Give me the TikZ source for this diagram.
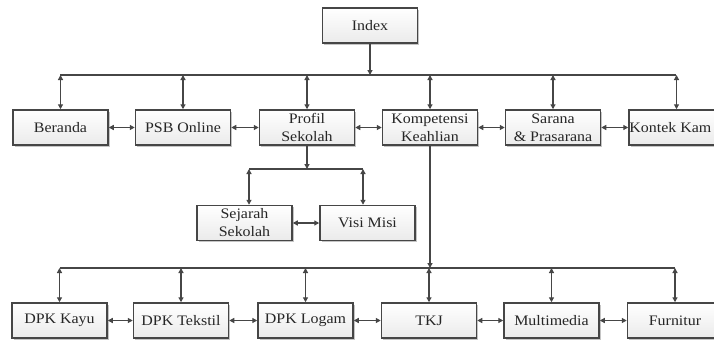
\documentclass[tikz,border=0pt]{standalone}
\usepackage{fontspec}
\setmainfont{Liberation Serif}[FakeStretch=1.1]
\usetikzlibrary{arrows.meta,shadows}
\definecolor{linegray}{HTML}{464646}
\begin{document}
\begin{tikzpicture}[x=1pt,y=-1pt,
  box/.style={draw=linegray, line width=1.5pt, top color=white, bottom color=gray!16,
    minimum width=95pt, minimum height=35pt, inner sep=0pt, align=center,
    font=\fontsize{14.5}{18}\selectfont, text=black!85,
    drop shadow={shadow xshift=1.8pt, shadow yshift=-1.8pt, opacity=0.45, fill=gray}},
  lbl/.style={font=\fontsize{14.5}{18}\selectfont, text=black!85, inner sep=0pt},
  conn/.style={draw=linegray, line width=1.4pt},
  tp/.tip={Triangle[length=5pt,width=5pt]}]
\useasboundingbox (0,0) rectangle (714,340);
\clip (0,0) rectangle (714,340);
\fill[white] (0,0) rectangle (714,340);
% top
\node[box] (index) at (370,25.5) {Index};
% row 1
\node[box] (beranda) at (60.5,127.5) {Beranda};
\node[box] (psb) at (183,127.5) {PSB Online};
\node[box] (profil) at (307,127.5) {Profil\\Sekolah};
\node[box] (komp) at (430,127.5) {Kompetensi\\Keahlian};
\node[box] (sarana) at (553,127.5) {Sarana\\\& Prasarana};
\node[box] (kontak) at (676.5,127.5) {};
\node[lbl, anchor=west] (kontaktext) at ([xshift=1pt]kontak.west) {Kontek Kam};
% sub row
\node[box] (sejarah) at (244.5,223) {Sejarah\\Sekolah};
\node[box] (visi) at (367.5,223) {Visi Misi};
% bottom row
\node[box] (kayu) at (59.5,320.5) {DPK Kayu};
\node[box] (tekstil) at (181,320.5) {DPK Tekstil};
\node[box] (logam) at (305.5,320.5) {DPK Logam};
\node[box] (tkj) at (429,320.5) {TKJ};
\node[box] (multi) at (551.5,320.5) {Multimedia};
\node[box] (furnitur) at (675,320.5) {Furnitur};
% top bus
\coordinate (tl) at (60,75);
\coordinate (tr) at (676,75);
\draw[conn] (tl) -- (tr);
\draw[conn,-tp] (index.south) -- (index.south |- tl);
\foreach \n in {beranda,psb,profil,komp,sarana,kontak}
  \draw[conn,tp-tp] (\n.north |- tl) -- (\n.north);
% row 1 horizontal
\draw[conn,tp-tp] (beranda.east) -- (psb.west);
\draw[conn,tp-tp] (psb.east) -- (profil.west);
\draw[conn,tp-tp] (profil.east) -- (komp.west);
\draw[conn,tp-tp] (komp.east) -- (sarana.west);
\draw[conn,tp-tp] (sarana.east) -- (kontak.west);
% sub branch
\coordinate (sl) at (249,169);
\coordinate (sr) at (363,169);
\draw[conn] (sl) -- (sr);
\draw[conn,-tp] (profil.south) -- (profil.south |- sl);
\draw[conn,tp-tp] (sl) -- (sl |- sejarah.north);
\draw[conn,tp-tp] (sr) -- (sr |- visi.north);
\draw[conn,tp-tp] (sejarah.east) -- (visi.west);
% bottom bus
\coordinate (bl) at (59.5,268);
\coordinate (br) at (675,268);
\draw[conn] (bl) -- (br);
\draw[conn,-tp] (komp.south) -- (komp.south |- bl);
\foreach \n in {kayu,tekstil,logam,tkj,multi,furnitur}
  \draw[conn,tp-tp] (\n.north |- bl) -- (\n.north);
\draw[conn,tp-tp] (kayu.east) -- (tekstil.west);
\draw[conn,tp-tp] (tekstil.east) -- (logam.west);
\draw[conn,tp-tp] (logam.east) -- (tkj.west);
\draw[conn,tp-tp] (tkj.east) -- (multi.west);
\draw[conn,tp-tp] (multi.east) -- (furnitur.west);
\end{tikzpicture}
\end{document}
